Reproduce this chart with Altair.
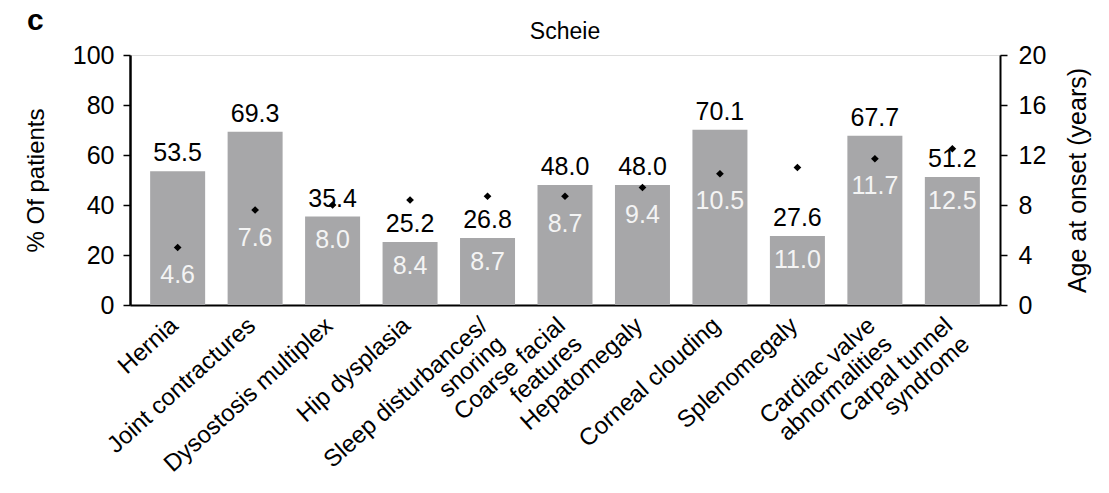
import altair as alt
import pandas as pd

# Scheie: share of patients per manifestation and mean age at onset
categories = [
    "Hernia",
    "Joint contractures",
    "Dysostosis multiplex",
    "Hip dysplasia",
    "Sleep disturbances/\nsnoring",
    "Coarse facial\nfeatures",
    "Hepatomegaly",
    "Corneal clouding",
    "Splenomegaly",
    "Cardiac valve\nabnormalities",
    "Carpal tunnel\nsyndrome",
]
pct_patients = [53.5, 69.3, 35.4, 25.2, 26.8, 48.0, 48.0, 70.1, 27.6, 67.7, 51.2]
age_onset = [4.6, 7.6, 8.0, 8.4, 8.7, 8.7, 9.4, 10.5, 11.0, 11.7, 12.5]
pct_ticks = [0, 20, 40, 60, 80, 100]
age_ticks = [0, 4, 8, 12, 16, 20]

df = pd.DataFrame({"symptom": categories, "pct": pct_patients, "age": age_onset})

FONT = "Liberation Sans"
BAR_GREY = "#a7a7a9"

x_enc = alt.X(
    "symptom:N",
    sort=categories,
    scale=alt.Scale(paddingInner=0.29, paddingOuter=0.26),
    axis=alt.Axis(
        title=None,
        grid=False,
        labelAngle=318,
        labelAlign="right",
        labelBaseline="top",
        labelExpr="split(datum.label, '\\n')",
        labelFont=FONT,
        labelFontSize=24,
        labelLineHeight=25,
        labelColor="black",
        labelPadding=8,
        labelOffset=-11,
        labelLimit=400,
        labelOverlap=False,
        ticks=False,
        domainColor="black",
        domainWidth=2,
    ),
)

pct_scale = alt.Scale(domain=[0, 100], nice=False, zero=True)
age_scale = alt.Scale(domain=[0, 20], nice=False, zero=True)

base = alt.Chart(df)

bars = base.mark_bar(color=BAR_GREY).encode(
    x=x_enc,
    y=alt.Y(
        "pct:Q",
        scale=pct_scale,
        axis=alt.Axis(
            orient="left",
            grid=False,
            values=pct_ticks,
            title="% Of patients",
            titleFont=FONT,
            titleFontSize=24,
            titleFontWeight="normal",
            titleColor="black",
            titlePadding=24,
            labelFont=FONT,
            labelFontSize=25,
            labelColor="black",
            labelPadding=9,
            tickSize=7,
            tickColor="black",
            tickWidth=1.5,
            domainColor="black",
            domainWidth=2.5,
        ),
    ),
)

pct_text = base.mark_text(
    font=FONT, fontSize=25, color="black", baseline="alphabetic", dy=-10
).encode(
    x=x_enc,
    y=alt.Y("pct:Q", scale=pct_scale, axis=None),
    text=alt.Text("pct:Q", format=".1f"),
)

diamonds = base.mark_point(
    shape="diamond", filled=True, size=60, color="black", opacity=1
).encode(
    x=x_enc,
    y=alt.Y(
        "age:Q",
        scale=age_scale,
        axis=alt.Axis(
            orient="right",
            grid=False,
            values=age_ticks,
            title="Age at onset (years)",
            titleAngle=270,
            titleFont=FONT,
            titleFontSize=25,
            titleFontWeight="normal",
            titleColor="black",
            titlePadding=45,
            labelFont=FONT,
            labelFontSize=25,
            labelColor="black",
            labelPadding=11,
            tickSize=7,
            tickColor="black",
            tickWidth=1.5,
            domainColor="black",
            domainWidth=2,
        ),
    ),
)

# onset-age labels sit inside the bar, below the diamond or below the bar top
age_text = base.transform_calculate(
    label_age="min(datum.age - 2.2, datum.pct / 5 - 1.9)"
).mark_text(
    font=FONT, fontSize=25, color="#f4f4f4", baseline="middle"
).encode(
    x=x_enc,
    y=alt.Y("label_age:Q", scale=age_scale, axis=None),
    text=alt.Text("age:Q", format=".1f"),
)

panel_tag = alt.Chart(pd.DataFrame({"tag": ["c"]})).mark_text(
    font=FONT, fontSize=30, fontWeight="bold", color="black",
    align="left", baseline="alphabetic",
).encode(x=alt.value(-103), y=alt.value(-25), text="tag:N")

panel_title = alt.Chart(pd.DataFrame({"name": ["Scheie"]})).mark_text(
    font=FONT, fontSize=23, color="black", align="center", baseline="alphabetic",
).encode(x=alt.value(435), y=alt.value(-16), text="name:N")

chart = (
    alt.layer(bars, pct_text, diamonds, age_text, panel_tag, panel_title)
    .resolve_scale(y="independent")
    .properties(
        width=870,
        height=250,
        autosize=alt.AutoSizeParams(type="none"),
        padding={"left": 130, "top": 55, "right": 109, "bottom": 188},
    )
    .configure_view(stroke=None)
    .configure_axis(grid=False)
    .configure(background="white")
)

chart.save("out.html", embed_options={"renderer": "svg", "actions": False})
